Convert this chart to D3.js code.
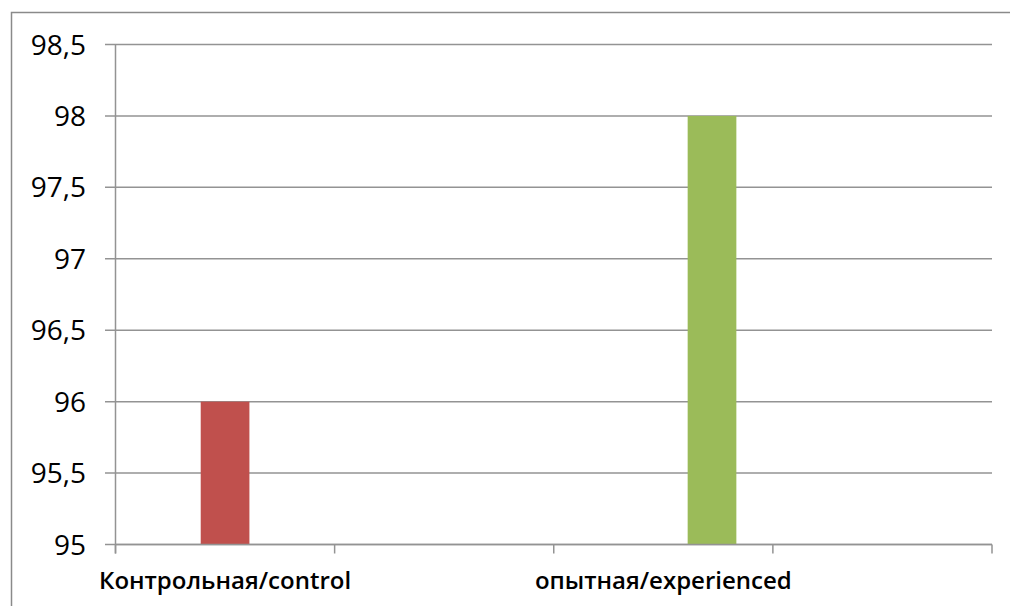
<!DOCTYPE html>
<html>
<head>
<meta charset="utf-8">
<script src="https://cdn.jsdelivr.net/npm/d3@7/dist/d3.min.js"></script>
<style>
  html, body { margin: 0; padding: 0; background: #fff; }
  svg { display: block; }
</style>
</head>
<body>
<svg id="chart" width="1010" height="606"></svg>
<script>
// Category slots along the x axis (labels shown on every other slot)
const categories = ["Контрольная/control", "", "опытная/experienced", ""];
// Three default series; only the second and third carry visible values
const seriesNames = ["Ряд1", "Ряд2", "Ряд3"];
const series1 = [null, null, null, null];
const series2 = [96, null, null, null];
const series3 = [null, null, 98, null];
const seriesColors = ["#4F81BD", "#C0504D", "#9BBB59"];
const yTicks = [95, 95.5, 96, 96.5, 97, 97.5, 98, 98.5];

const svg = d3.select("#chart");
const margin = { left: 115.5, right: 992, top: 44.5, bottom: 544.5 };

// outer chart frame
svg.append("path")
  .attr("d", "M11.5,606 L11.5,12.5 L1010,12.5")
  .attr("fill", "none")
  .attr("stroke", "#8a8a8a")
  .attr("stroke-width", 1.5);

const x = d3.scaleBand()
  .domain(d3.range(categories.length))
  .range([margin.left, margin.right])
  .paddingInner(0).paddingOuter(0);

// cluster of three bars with a 150% gap width
const bw = x.bandwidth();
const barW = bw / 4.5;
const x1 = d3.scaleBand()
  .domain(seriesNames)
  .range([(bw - 3 * barW) / 2, (bw + 3 * barW) / 2]);

const y = d3.scaleLinear().domain([95, 98.5]).range([margin.bottom, margin.top]);

// horizontal gridlines with short left ticks
const grid = svg.append("g");
grid.selectAll("line")
  .data(yTicks)
  .join("line")
  .attr("x1", margin.left - 10.5)
  .attr("x2", margin.right)
  .attr("y1", d => y(d))
  .attr("y2", d => y(d))
  .attr("stroke", "#939393")
  .attr("stroke-width", 1.5);

// y tick labels
svg.append("g").selectAll("text")
  .data(yTicks)
  .join("text")
  .attr("x", 86)
  .attr("y", d => y(d))
  .attr("dy", "0.36em")
  .attr("text-anchor", "end")
  .attr("font-family", "'Open Sans', sans-serif")
  .attr("font-size", 28)
  .attr("fill", "#000")
  .text(d => d3.format("")(d).replace(".", ","));

// bars
const allSeries = [series1, series2, series3];
allSeries.forEach((vals, si) => {
  svg.append("g").selectAll("rect")
    .data(vals.map((v, i) => ({ v, i })).filter(d => d.v != null))
    .join("rect")
    .attr("x", d => x(d.i) + x1(seriesNames[si]))
    .attr("width", x1.bandwidth())
    .attr("y", d => y(d.v))
    .attr("height", d => y(95) - y(d.v))
    .attr("fill", seriesColors[si]);
});

// y axis line
svg.append("line")
  .attr("x1", margin.left).attr("x2", margin.left)
  .attr("y1", margin.top).attr("y2", margin.bottom + 9)
  .attr("stroke", "#939393").attr("stroke-width", 1.5);

// x axis line and category boundary ticks
svg.append("line")
  .attr("x1", margin.left).attr("x2", margin.right)
  .attr("y1", margin.bottom).attr("y2", margin.bottom)
  .attr("stroke", "#939393").attr("stroke-width", 1.5);

const boundaries = d3.range(categories.length + 1).map(i => i < categories.length ? x(i) : x(i - 1) + bw);
svg.append("g").selectAll("line")
  .data(boundaries)
  .join("line")
  .attr("x1", d => d).attr("x2", d => d)
  .attr("y1", margin.bottom).attr("y2", margin.bottom + 9)
  .attr("stroke", "#939393").attr("stroke-width", 1.5);

// category labels
svg.append("g").selectAll("text")
  .data(categories.map((c, i) => ({ c, i })).filter(d => d.c))
  .join("text")
  .attr("x", d => x(d.i) + bw / 2)
  .attr("y", 589)
  .attr("text-anchor", "middle")
  .attr("font-family", "'Open Sans', sans-serif")
  .attr("font-weight", "600")
  .attr("font-size", 24)
  .attr("fill", "#000")
  .text(d => d.c);
</script>
</body>
</html>
